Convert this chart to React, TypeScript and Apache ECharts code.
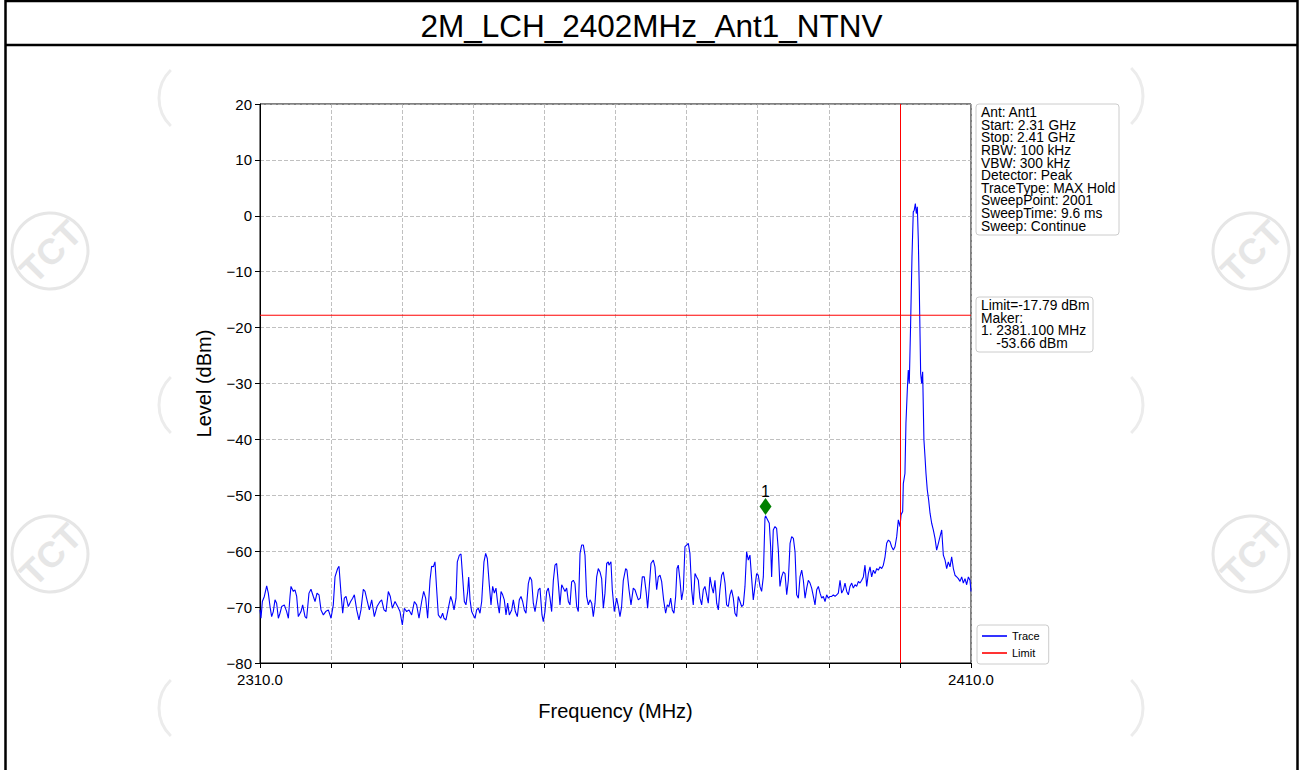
import React, { useEffect, useRef } from "react";
import * as echarts from "echarts";

const chartTitle = "2M_LCH_2402MHz_Ant1_NTNV";
const xAxisName = "Frequency (MHz)";
const yAxisName = "Level (dBm)";
const xMin = 2310;
const xMax = 2410;
const yMin = -80;
const yMax = 20;
const limitValue = -17.79;
const channelLineMHz = 2400;
const markerFreq = 2381.1;
const markerPlotLevel = -52;
const infoLines = [
  "Ant: Ant1",
  "Start: 2.31 GHz",
  "Stop: 2.41 GHz",
  "RBW: 100 kHz",
  "VBW: 300 kHz",
  "Detector: Peak",
  "TraceType: MAX Hold",
  "SweepPoint: 2001",
  "SweepTime: 9.6 ms",
  "Sweep: Continue",
];
const limitLines = ["Limit=-17.79 dBm", "Maker:", "1. 2381.100 MHz", "    -53.66 dBm"];

const freqMHz = [
  2310.00, 2310.14, 2310.33, 2310.61, 2310.94, 2311.17, 2311.41, 2311.64, 2311.87, 2312.11,
  2312.34, 2312.58, 2312.81, 2313.05, 2313.42, 2313.75, 2313.99, 2314.22, 2314.36, 2314.69,
  2314.92, 2315.16, 2315.39, 2315.77, 2316.00, 2316.33, 2316.56, 2316.89, 2317.17, 2317.50,
  2317.74, 2318.02, 2318.30, 2318.58, 2318.91, 2319.24, 2319.61, 2319.99, 2320.31, 2320.55,
  2320.92, 2321.11, 2321.39, 2321.63, 2321.86, 2322.10, 2322.42, 2322.75, 2323.03, 2323.27,
  2323.60, 2323.92, 2324.20, 2324.53, 2324.77, 2325.10, 2325.38, 2325.71, 2326.08, 2326.46,
  2326.88, 2327.11, 2327.44, 2327.72, 2328.05, 2328.33, 2328.61, 2328.99, 2329.36, 2329.69,
  2330.02, 2330.30, 2330.63, 2330.96, 2331.33, 2331.71, 2332.03, 2332.36, 2332.74, 2333.02,
  2333.30, 2333.58, 2333.91, 2334.14, 2334.38, 2334.61, 2334.85, 2335.08, 2335.41, 2335.69,
  2335.88, 2336.16, 2336.49, 2336.82, 2337.05, 2337.29, 2337.57, 2337.75, 2338.04, 2338.27,
  2338.50, 2338.74, 2338.97, 2339.21, 2339.35, 2339.54, 2339.77, 2340.00, 2340.24, 2340.47,
  2340.71, 2340.94, 2341.18, 2341.50, 2341.74, 2341.97, 2342.25, 2342.49, 2342.72, 2342.96,
  2343.19, 2343.43, 2343.66, 2343.90, 2344.13, 2344.36, 2344.60, 2344.83, 2345.07, 2345.40,
  2345.63, 2345.91, 2346.19, 2346.47, 2346.71, 2346.94, 2347.18, 2347.41, 2347.74, 2347.97,
  2348.21, 2348.44, 2348.68, 2348.91, 2349.15, 2349.38, 2349.66, 2349.85, 2350.08, 2350.32,
  2350.55, 2350.79, 2351.02, 2351.26, 2351.49, 2351.72, 2351.96, 2352.19, 2352.43, 2352.66,
  2352.90, 2353.13, 2353.37, 2353.60, 2353.83, 2354.07, 2354.30, 2354.54, 2354.77, 2355.01,
  2355.24, 2355.48, 2355.71, 2355.94, 2356.18, 2356.41, 2356.65, 2356.88, 2357.12, 2357.35,
  2357.58, 2357.82, 2358.05, 2358.29, 2358.52, 2358.76, 2358.99, 2359.08, 2359.36, 2359.55,
  2359.83, 2360.16, 2360.40, 2360.63, 2360.86, 2361.10, 2361.43, 2361.61, 2361.90, 2362.18,
  2362.50, 2362.74, 2362.97, 2363.21, 2363.49, 2363.77, 2364.05, 2364.33, 2364.52, 2364.75,
  2364.99, 2365.32, 2365.55, 2365.79, 2366.02, 2366.26, 2366.49, 2366.77, 2367.05, 2367.29,
  2367.52, 2367.76, 2367.99, 2368.22, 2368.46, 2368.65, 2368.83, 2369.07, 2369.30, 2369.54,
  2369.77, 2370.01, 2370.24, 2370.47, 2370.71, 2370.94, 2371.18, 2371.41, 2371.65, 2371.88,
  2372.12, 2372.35, 2372.58, 2372.82, 2373.05, 2373.29, 2373.52, 2373.76, 2373.99, 2374.23,
  2374.46, 2374.69, 2374.93, 2375.16, 2375.40, 2375.63, 2375.87, 2376.10, 2376.33, 2376.57,
  2376.80, 2377.04, 2377.27, 2377.51, 2377.74, 2377.98, 2378.21, 2378.44, 2378.68, 2378.91,
  2379.15, 2379.38, 2379.62, 2379.85, 2380.08, 2380.32, 2380.55, 2380.79, 2381.02, 2381.10,
  2381.40, 2381.63, 2381.82, 2381.96, 2382.19, 2382.43, 2382.66, 2382.90, 2383.13, 2383.37,
  2383.60, 2383.84, 2384.08, 2384.31, 2384.55, 2384.78, 2385.02, 2385.25, 2385.48, 2385.72,
  2385.95, 2386.19, 2386.42, 2386.66, 2386.89, 2387.12, 2387.36, 2387.59, 2387.83, 2388.06,
  2388.30, 2388.53, 2388.77, 2389.00, 2389.23, 2389.47, 2389.70, 2389.94, 2390.17, 2390.41,
  2390.64, 2390.88, 2391.11, 2391.34, 2391.58, 2391.81, 2392.05, 2392.28, 2392.52, 2392.75,
  2392.98, 2393.22, 2393.45, 2393.69, 2393.92, 2394.16, 2394.39, 2394.63, 2394.86, 2395.09,
  2395.33, 2395.56, 2395.80, 2396.03, 2396.27, 2396.50, 2396.74, 2396.97, 2397.20, 2397.44,
  2397.67, 2397.91, 2398.14, 2398.38, 2398.61, 2398.84, 2399.08, 2399.31, 2399.55, 2399.78,
  2400.02, 2400.16, 2400.39, 2400.48, 2400.71, 2400.85, 2401.04, 2401.18, 2401.32, 2401.51,
  2401.70, 2401.88, 2402.02, 2402.17, 2402.31, 2402.45, 2402.59, 2402.73, 2402.92, 2403.06,
  2403.20, 2403.38, 2403.53, 2403.67, 2403.85, 2404.04, 2404.24, 2404.47, 2404.70, 2404.94,
  2405.17, 2405.41, 2405.64, 2405.88, 2406.11, 2406.35, 2406.58, 2406.81, 2407.05, 2407.28,
  2407.52, 2407.75, 2407.99, 2408.22, 2408.46, 2408.69, 2408.92, 2409.16, 2409.39, 2409.63,
  2409.86, 2410.00,
];

const levelDbm = [
  -70.5, -72.0, -69.0, -68.1, -66.2, -67.5, -69.9, -71.7, -70.8, -68.7,
  -69.3, -72.0, -71.1, -69.9, -69.6, -70.8, -72.0, -68.1, -66.3, -67.2,
  -66.9, -68.1, -71.7, -70.8, -69.6, -71.7, -72.0, -67.5, -66.8, -68.1,
  -69.0, -67.5, -67.8, -70.5, -71.4, -70.8, -70.5, -72.0, -69.6, -64.6,
  -63.1, -62.7, -67.5, -71.1, -68.4, -68.1, -69.9, -69.0, -68.4, -67.8,
  -70.5, -72.3, -70.5, -66.8, -67.2, -69.0, -70.5, -68.7, -71.7, -69.9,
  -69.0, -68.7, -70.5, -70.8, -67.2, -68.1, -70.2, -69.0, -69.9, -70.8,
  -73.2, -70.2, -70.8, -70.5, -71.4, -69.0, -69.6, -72.0, -69.0, -67.2,
  -68.4, -72.0, -65.2, -62.7, -62.8, -61.9, -66.9, -71.4, -72.0, -71.1,
  -72.0, -72.3, -70.2, -68.1, -69.0, -70.5, -68.4, -61.9, -60.7, -60.5,
  -64.6, -69.0, -69.6, -67.2, -64.6, -68.7, -70.8, -71.4, -72.0, -70.5,
  -70.2, -71.1, -69.0, -61.9, -60.4, -61.3, -66.0, -69.6, -66.3, -67.5,
  -66.6, -69.3, -71.1, -67.2, -67.8, -68.7, -71.4, -69.3, -71.4, -70.5,
  -68.7, -70.8, -71.7, -68.7, -68.1, -69.0, -70.5, -71.1, -65.8, -64.6,
  -65.2, -69.3, -70.8, -69.0, -66.9, -66.6, -71.4, -72.6, -70.8, -67.2,
  -66.6, -68.4, -70.8, -65.2, -62.5, -62.2, -65.8, -69.6, -66.0, -66.6,
  -67.2, -66.6, -69.0, -69.6, -65.5, -65.2, -65.8, -69.9, -70.8, -60.4,
  -58.9, -58.9, -60.7, -68.1, -69.6, -68.7, -69.3, -71.7, -69.3, -64.6,
  -63.1, -63.7, -64.9, -70.2, -67.5, -62.2, -61.9, -62.5, -61.9, -66.9,
  -70.8, -68.4, -69.9, -71.7, -69.9, -65.2, -63.1, -63.4, -66.9, -69.6,
  -66.6, -66.9, -67.8, -68.7, -68.4, -64.6, -64.6, -67.5, -70.2, -66.3,
  -62.2, -61.6, -62.8, -66.9, -64.6, -64.3, -65.4, -68.7, -71.1, -69.6,
  -69.9, -68.4, -70.5, -71.1, -68.1, -63.1, -62.5, -65.2, -68.7, -66.9,
  -59.2, -58.9, -58.6, -60.4, -66.9, -69.6, -64.0, -64.6, -65.2, -68.4,
  -69.6, -66.9, -66.3, -67.8, -69.3, -64.6, -66.3, -67.5, -65.2, -69.3,
  -70.5, -66.9, -64.3, -63.7, -65.7, -69.6, -69.9, -67.8, -66.9, -68.4,
  -71.1, -71.7, -68.1, -69.0, -69.9, -69.6, -66.3, -60.1, -61.6, -60.7,
  -64.9, -68.7, -66.3, -64.0, -64.3, -66.3, -67.2, -64.6, -54.1, -53.66,
  -54.4, -55.0, -59.2, -64.6, -56.2, -55.6, -55.9, -59.8, -66.3, -64.6,
  -63.7, -64.0, -67.8, -65.2, -58.6, -57.4, -57.7, -60.1, -67.8, -68.4,
  -64.6, -63.4, -65.2, -68.4, -66.6, -65.2, -65.7, -66.6, -68.1, -69.6,
  -66.9, -66.3, -67.5, -68.4, -68.1, -69.0, -67.8, -68.4, -68.1, -68.1,
  -67.8, -68.1, -67.8, -67.5, -65.2, -67.5, -66.9, -65.7, -67.2, -67.8,
  -66.3, -65.7, -66.6, -66.0, -66.3, -65.4, -65.7, -65.2, -64.6, -62.5,
  -66.3, -64.0, -62.8, -64.6, -63.4, -64.0, -63.1, -63.4, -62.8, -63.1,
  -62.5, -61.0, -58.6, -58.0, -58.3, -59.2, -59.8, -59.2, -57.4, -54.4,
  -55.6, -53.5, -52.9, -47.9, -46.1, -37.1, -31.2, -27.6, -30.0, -19.2,
  -7.3, 0.7, 1.0, 2.2, 0.4, 1.6, -4.3, -13.3, -28.2, -30.0,
  -27.9, -40.1, -43.1, -46.1, -49.0, -50.8, -53.2, -55.0, -56.2, -57.7,
  -59.8, -58.6, -57.4, -56.2, -60.7, -61.6, -63.1, -61.9, -62.8, -61.0,
  -63.1, -64.3, -64.6, -64.9, -65.4, -64.6, -65.7, -64.9, -66.0, -64.6,
  -65.2, -67.2,
];

const FONT = "'Liberation Sans', Arial, sans-serif";

export default function App() {
  const ref = useRef<HTMLDivElement>(null);

  useEffect(() => {
    document.body.style.margin = "0";
    if (!ref.current) return;
    const chart = echarts.init(ref.current, null, { renderer: "svg" });

    const traceData = freqMHz.map((f, i) => [f, levelDbm[i]]);
    const limitData = [
      [xMin, limitValue],
      [xMax, limitValue],
    ];

    const wmColor = "#e6e6e6";
    const logo = (cx: number, cy: number) => ({
      type: "group",
      x: cx,
      y: cy,
      silent: true,
      children: [
        {
          type: "circle",
          shape: { cx: 0, cy: 0, r: 38 },
          style: { fill: "none", stroke: wmColor, lineWidth: 3 },
        },
        {
          type: "text",
          rotation: Math.PI / 4,
          style: {
            text: "TCT",
            x: 0,
            y: 1,
            font: `bold 36px ${FONT}`,
            fill: wmColor,
            textAlign: "center",
            textVerticalAlign: "middle",
          },
        },
      ],
    });
    const arcL = (cy: number) => ({
      type: "arc",
      silent: true,
      shape: { cx: 198, cy, r: 39, startAngle: Math.PI - 0.8, endAngle: Math.PI + 0.8 },
      style: { fill: "none", stroke: "#ececec", lineWidth: 3 },
    });
    const arcR = (cy: number) => ({
      type: "arc",
      silent: true,
      shape: { cx: 1104, cy, r: 39, startAngle: -0.8, endAngle: 0.8 },
      style: { fill: "none", stroke: "#ececec", lineWidth: 3 },
    });

    const step = 12.6;
    const textBox = (x: number, y: number, w: number, h: number, lines: string[]) => ({
      type: "group",
      silent: true,
      children: [
        {
          type: "rect",
          shape: { x, y, width: w, height: h, r: 3 },
          style: { fill: "#ffffff", stroke: "#cccccc", lineWidth: 1 },
          z: 10,
        },
        ...lines.map((t, i) => ({
          type: "text",
          z: 11,
          style: {
            text: t,
            x: x + 5,
            y: y + 8.7 + i * step,
            font: `13.8px ${FONT}`,
            lineHeight: step,
            fill: "#000000",
            textAlign: "left",
            textVerticalAlign: "middle",
          },
        })),
      ],
    });

    const option = {
      animation: false,
      backgroundColor: "#ffffff",
      textStyle: { fontFamily: FONT },
      grid: {
        left: 260,
        top: 104,
        right: 330,
        bottom: 107,
        show: true,
        borderColor: "#000000",
        borderWidth: 1,
        containLabel: false,
      },
      legend: {
        orient: "vertical",
        left: 977,
        top: 625,
        data: [
          { name: "Trace", icon: "rect" },
          { name: "Limit", icon: "rect" },
        ],
        itemWidth: 25,
        itemHeight: 1.6,
        itemGap: 5,
        padding: [5, 9, 5, 5],
        borderColor: "#cccccc",
        borderWidth: 1,
        borderRadius: 3,
        backgroundColor: "#ffffff",
        textStyle: { fontSize: 11, color: "#000", fontFamily: FONT, lineHeight: 12 },
        selectedMode: false,
      },
      xAxis: {
        type: "value",
        min: xMin,
        max: xMax,
        interval: 10,
        name: xAxisName,
        nameLocation: "middle",
        nameGap: 38,
        nameTextStyle: { fontSize: 20, color: "#000", fontFamily: FONT },
        axisLine: { show: true, onZero: false, lineStyle: { color: "#000", width: 1 } },
        axisTick: { show: true, length: 5, lineStyle: { color: "#000" } },
        axisLabel: {
          fontSize: 15,
          color: "#000",
          margin: 9,
          fontFamily: FONT,
          formatter: (v: number) => (v === xMin || v === xMax ? v.toFixed(1) : ""),
        },
        splitLine: { show: true, lineStyle: { color: "#b0b0b0", type: [4, 2], width: 0.8 } },
      },
      yAxis: {
        type: "value",
        min: yMin,
        max: yMax,
        interval: 10,
        name: yAxisName,
        nameLocation: "middle",
        nameGap: 46,
        nameTextStyle: { fontSize: 20, color: "#000", fontFamily: FONT },
        axisLine: { show: true, onZero: false, lineStyle: { color: "#000", width: 1 } },
        axisTick: { show: true, length: 5, lineStyle: { color: "#000" } },
        axisLabel: {
          fontSize: 15,
          color: "#000",
          margin: 8,
          fontFamily: FONT,
          formatter: (v: number) => (v < 0 ? "\u2212" + Math.abs(v) : String(v)),
        },
        splitLine: { show: true, lineStyle: { color: "#b0b0b0", type: [4, 2], width: 0.8 } },
      },
      series: [
        {
          name: "Trace",
          type: "line",
          data: traceData,
          symbol: "none",
          showSymbol: false,
          lineStyle: { color: "#0000ff", width: 1.1 },
          itemStyle: { color: "#0000ff" },
          z: 3,
        },
        {
          name: "Limit",
          type: "line",
          data: limitData,
          symbol: "none",
          showSymbol: false,
          lineStyle: { color: "#ff0000", width: 1 },
          itemStyle: { color: "#ff0000" },
          z: 4,
          markLine: {
            silent: true,
            symbol: "none",
            label: { show: false },
            lineStyle: { color: "#ff0000", width: 1, type: "solid" },
            data: [{ xAxis: channelLineMHz }],
          },
        },
        {
          name: "Marker",
          type: "scatter",
          data: [[markerFreq, markerPlotLevel]],
          symbol: "diamond",
          symbolSize: [12, 17],
          itemStyle: { color: "#008000", opacity: 1 },
          label: {
            show: true,
            position: "top",
            distance: -2,
            formatter: "1",
            fontSize: 16,
            color: "#000",
            fontFamily: FONT,
          },
          z: 5,
        },
      ],
      graphic: [
        logo(50, 251),
        logo(50, 554),
        logo(1251, 251),
        logo(1251, 554),
        arcL(98),
        arcL(405),
        arcL(708),
        arcR(96),
        arcR(405),
        arcR(708),
        {
          type: "rect",
          silent: true,
          shape: { x: 5.5, y: 1, width: 1292, height: 820 },
          style: { fill: "none", stroke: "#000000", lineWidth: 2.5 },
        },
        {
          type: "line",
          silent: true,
          shape: { x1: 5, y1: 45, x2: 1298, y2: 45 },
          style: { stroke: "#000000", lineWidth: 2.5 },
        },
        {
          type: "text",
          silent: true,
          style: {
            text: chartTitle,
            x: 651.5,
            y: 26,
            font: `31.5px ${FONT}`,
            fill: "#000000",
            textAlign: "center",
            textVerticalAlign: "middle",
          },
        },
        textBox(976, 104, 143, 131, infoLines),
        textBox(976, 297, 117, 55, limitLines),
      ],
    };

    chart.setOption(option as any);
    return () => chart.dispose();
  }, []);

  return <div ref={ref} style={{ width: 1301, height: 770 }} />;
}
